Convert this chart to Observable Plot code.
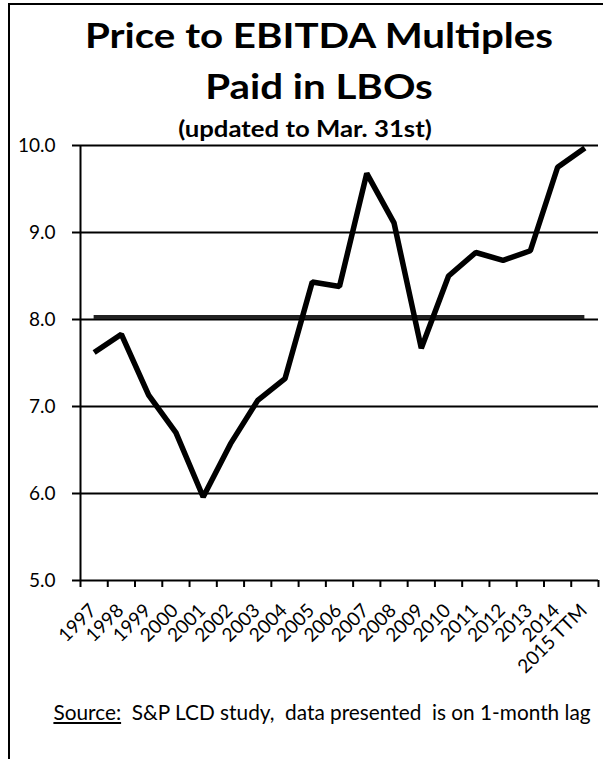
<!DOCTYPE html>
<html>
<head>
<meta charset="utf-8">
<script src="https://cdn.jsdelivr.net/npm/d3@7"></script>
<script src="https://cdn.jsdelivr.net/npm/@observablehq/plot@0.6"></script>
<style>
  html, body { margin: 0; padding: 0; background: #fff; }
  #wrap { position: relative; width: 603px; height: 759px; overflow: hidden; font-family: Lato, "Open Sans", sans-serif; color: #000; }
  .frameL { position: absolute; left: 8px; top: 3px; width: 2px; height: 756px; background: #000; }
  .frameT { position: absolute; left: 8px; top: 3px; width: 595px; height: 2px; background: #000; }
  .t { position: absolute; white-space: nowrap; line-height: 1; }
  #chart { position: absolute; left: 0; top: 0; }
</style>
</head>
<body>
<div id="wrap">
  <div id="chart"></div>
  <div class="frameL"></div>
  <div class="frameT"></div>
  <div class="t" id="title1" style="left:319px; top:17px; font-size:35px; font-weight:700; transform:translateX(-50%) scaleX(1.15);">Price to EBITDA Multiples</div>
  <div class="t" id="title2" style="left:319px; top:68px; font-size:35px; font-weight:700; transform:translateX(-50%) scaleX(1.15);">Paid in LBOs</div>
  <div class="t" id="subtitle" style="left:305px; top:118px; font-size:22px; font-weight:700; transform:translateX(-50%) scaleX(1.17);">(updated to Mar. 31st)</div>
  <div class="t" id="source" style="left:322px; top:702px; font-size:20.8px; transform:translateX(-50%);"><span style="text-decoration:underline;">Source:</span>&nbsp; S&amp;P LCD study,&nbsp; data presented&nbsp; is on 1-month lag</div>
</div>
<script>
const categories = ["1997","1998","1999","2000","2001","2002","2003","2004","2005","2006","2007","2008","2009","2010","2011","2012","2013","2014","2015 TTM"];
const multiples = [7.62,7.83,7.13,6.70,5.96,6.57,7.07,7.32,8.43,8.38,9.68,9.11,7.67,8.50,8.77,8.68,8.79,9.75,9.97];
const averageMultiple = 8.03;
const yTicks = [5, 6, 7, 8, 9, 10];

const data = categories.map((c, i) => ({i, category: c, value: multiples[i]}));
const boundaries = d3.range(-0.5, categories.length, 1);

const chart = Plot.plot({
  width: 603,
  height: 759,
  marginTop: 145,
  marginBottom: 179,
  marginLeft: 80,
  marginRight: 5,
  style: {fontFamily: "Lato, 'Open Sans', sans-serif", background: "transparent", color: "#000"},
  x: {domain: [-0.5, categories.length - 0.5], axis: null},
  y: {domain: [5, 10], axis: null},
  marks: [
    Plot.ruleY(yTicks.slice(1), {stroke: "#000", strokeWidth: 1.8}),
    Plot.ruleY([averageMultiple], {x1: 0, x2: categories.length - 1, stroke: "#222", strokeWidth: 4}),
    Plot.line(data, {x: "i", y: "value", stroke: "#000", strokeWidth: 5.5, strokeLinejoin: "miter", strokeLinecap: "butt"}),
    Plot.ruleY([5], {stroke: "#000", strokeWidth: 2}),
    Plot.ruleX([-0.5], {stroke: "#000", strokeWidth: 2}),
    Plot.axisY({ticks: yTicks, tickFormat: d => d.toFixed(1), tickSize: 8, tickPadding: 17, fontSize: 19, strokeWidth: 2, label: null}),
    Plot.axisX({ticks: boundaries, tickSize: 7, tickFormat: () => "", strokeWidth: 2, label: null}),
    Plot.text(data, {x: "i", text: "category", frameAnchor: "bottom", rotate: -45, textAnchor: "end", lineAnchor: "middle", dx: -1, dy: 27, fontSize: 19, fill: "#000"})
  ]
});
document.getElementById("chart").appendChild(chart);
</script>
</body>
</html>
